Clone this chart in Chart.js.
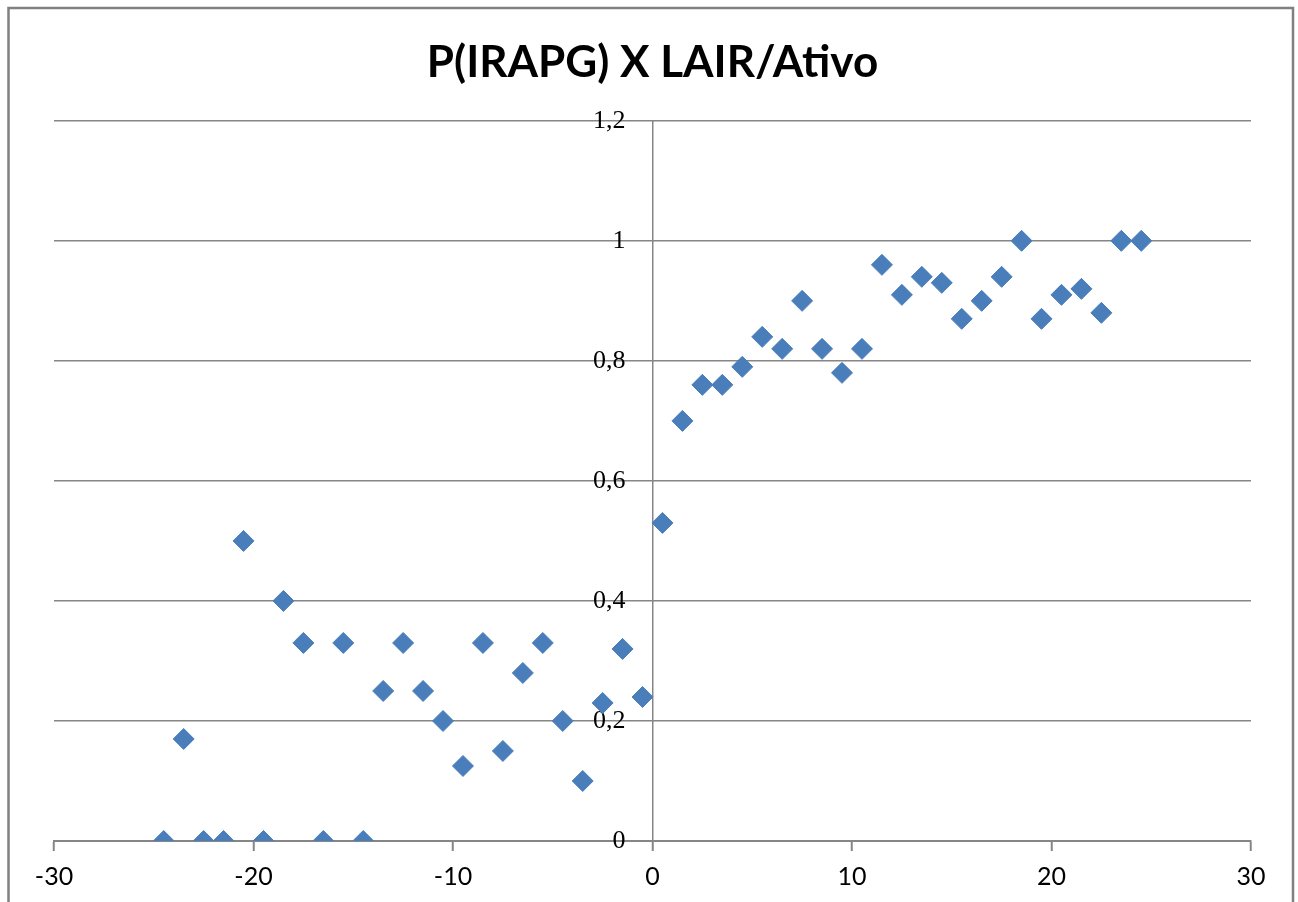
<!DOCTYPE html>
<html>
<head>
<meta charset="utf-8">
<script src="https://cdn.jsdelivr.net/npm/chart.js@4.4.0/dist/chart.umd.min.js"></script>
<style>
  html, body { margin: 0; padding: 0; background: #fff; }
  #wrap { width: 1298px; height: 902px; }
</style>
</head>
<body>
<div id="wrap"><canvas id="chart" width="1298" height="902"></canvas></div>
<script>
// LAIR/Ativo class midpoints and P(IRAPG)
const xValues = [
  -24.5, -23.5, -22.5, -21.5, -20.5, -19.5, -18.5, -17.5, -16.5, -15.5,
  -14.5, -13.5, -12.5, -11.5, -10.5, -9.5, -8.5, -7.5, -6.5, -5.5,
  -4.5, -3.5, -2.5, -1.5, -0.5, 0.5, 1.5, 2.5, 3.5, 4.5,
  5.5, 6.5, 7.5, 8.5, 9.5, 10.5, 11.5, 12.5, 13.5, 14.5,
  15.5, 16.5, 17.5, 18.5, 19.5, 20.5, 21.5, 22.5, 23.5, 24.5
];
const yValues = [
  0, 0.17, 0, 0, 0.5, 0, 0.4, 0.33, 0, 0.33,
  0, 0.25, 0.33, 0.25, 0.2, 0.125, 0.33, 0.15, 0.28, 0.33,
  0.2, 0.1, 0.23, 0.32, 0.24, 0.53, 0.7, 0.76, 0.76, 0.79,
  0.84, 0.82, 0.9, 0.82, 0.78, 0.82, 0.96, 0.91, 0.94, 0.93,
  0.87, 0.9, 0.94, 1, 0.87, 0.91, 0.92, 0.88, 1, 1
];

const xTicks = [-30, -20, -10, 0, 10, 20, 30];
const yTicks = [0, 0.2, 0.4, 0.6, 0.8, 1, 1.2];

const chartTitle = 'P(IRAPG) X LAIR/Ativo';
const gridColor = '#868686';
const markerColor = '#4a7ebb';

// outer frame like the Excel chart border
const framePlugin = {
  id: 'frame',
  afterDraw(chart) {
    const ctx = chart.ctx;
    ctx.save();
    ctx.strokeStyle = '#808080';
    ctx.lineWidth = 2.5;
    ctx.strokeRect(8.5, 8, 1284.5, 1000);
    ctx.restore();
  }
};

const points = xValues.map((x, i) => ({ x: x, y: yValues[i] }));

const fmtComma = v => String(+v.toFixed(1)).replace('.', ',');

new Chart(document.getElementById('chart').getContext('2d'), {
  type: 'scatter',
  data: {
    datasets: [{
      data: points,
      pointStyle: 'rectRot',
      pointRadius: 10.5,
      pointHoverRadius: 10.5,
      backgroundColor: markerColor,
      borderColor: markerColor,
      borderWidth: 1
    }]
  },
  options: {
    responsive: false,
    animation: false,
    events: [],
    layout: {
      padding: { left: 54, right: 47, bottom: 61, top: 0 }
    },
    plugins: {
      legend: { display: false },
      tooltip: { enabled: false },
      title: {
        display: true,
        text: chartTitle,
        color: '#000',
        font: { family: 'Lato', size: 44, weight: 'bold' },
        padding: { top: 36, bottom: 32 }
      }
    },
    scales: {
      x: {
        type: 'linear',
        position: { y: 0 },
        min: -30,
        max: 30,
        afterBuildTicks: axis => { axis.ticks = xTicks.map(v => ({ value: v })); },
        ticks: {
          color: '#000',
          font: { family: 'Lato', size: 25 },
          padding: 12,
          maxRotation: 0,
          callback: v => String(v)
        },
        grid: {
          // only the vertical line at x = 0 is drawn inside the plot
          drawOnChartArea: true,
          drawTicks: true,
          tickLength: 9,
          color: ctx => (ctx.tick && ctx.tick.value === 0) ? gridColor : 'rgba(0,0,0,0)',
          tickColor: gridColor,
          lineWidth: 1.5,
          tickWidth: 2
        },
        border: { display: true, color: gridColor, width: 2 }
      },
      y: {
        type: 'linear',
        // labels sit a little to the left of the x = 0 line
        position: { x: -1.35 },
        min: 0,
        max: 1.2,
        afterBuildTicks: axis => { axis.ticks = yTicks.map(v => ({ value: v })); },
        ticks: {
          color: '#000',
          font: { family: 'Liberation Serif', size: 26 },
          callback: v => fmtComma(v)
        },
        grid: {
          drawOnChartArea: true,
          drawTicks: false,
          color: gridColor,
          lineWidth: 1.5
        },
        border: { display: false }
      }
    }
  },
  plugins: [framePlugin]
});
</script>
</body>
</html>
